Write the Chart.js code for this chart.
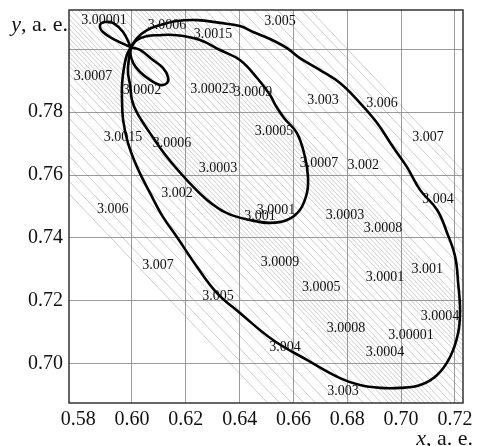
<!DOCTYPE html>
<html>
<head>
<meta charset="utf-8">
<script src="https://cdn.jsdelivr.net/npm/chart.js@4/dist/chart.umd.min.js"></script>
<style>
  html, body { margin: 0; padding: 0; background: #fff; }
  #c { display: block; }
</style>
</head>
<body>
<canvas id="c" width="480" height="446"></canvas>
<script>
// ---- axis ranges and ticks ----
const xRange = [0.5766, 0.7230];
const yRange = [0.6876, 0.8124];
const tickStep = 0.02;
const hiddenYTick = 0.80;

// ---- large ellipse (x, y in a. e.) ----
const largeX = [0.5996,0.6019,0.6056,0.6104,0.6167,0.6242,0.6327,0.6401,0.6450,0.6513,0.6576,0.6624,0.6699,0.6773,0.6847,0.6911,0.6970,0.7022,0.7071,0.7134,0.7171,0.7201,0.7212,0.7219,0.7212,0.7182,0.7134,0.7071,0.6996,0.6922,0.6847,0.6773,0.6650,0.6524,0.6401,0.6316,0.6242,0.6167,0.6115,0.6067,0.6019,0.5985,0.5967,0.5963,0.5963,0.5970,0.5981,0.5996];
const largeY = [0.8006,0.8035,0.8060,0.8076,0.8089,0.8092,0.8083,0.8073,0.8054,0.8032,0.8003,0.7971,0.7933,0.7892,0.7829,0.7765,0.7689,0.7625,0.7552,0.7489,0.7416,0.7340,0.7257,0.7171,0.7098,0.7022,0.6965,0.6933,0.6924,0.6924,0.6933,0.6955,0.7013,0.7076,0.7162,0.7225,0.7308,0.7403,0.7467,0.7543,0.7625,0.7702,0.7775,0.7838,0.7886,0.7940,0.7981,0.8006];

// ---- medium ellipse ----
const mediumX = [0.5996,0.6019,0.6056,0.6093,0.6167,0.6253,0.6327,0.6401,0.6465,0.6513,0.6535,0.6565,0.6613,0.6643,0.6654,0.6650,0.6624,0.6576,0.6513,0.6439,0.6353,0.6279,0.6204,0.6130,0.6067,0.6019,0.6000,0.5993,0.5985,0.5989,0.5996];
const mediumY = [0.8006,0.8029,0.8041,0.8044,0.8044,0.8029,0.7997,0.7965,0.7908,0.7854,0.7819,0.7781,0.7733,0.7657,0.7594,0.7543,0.7489,0.7457,0.7448,0.7457,0.7479,0.7521,0.7584,0.7657,0.7733,0.7797,0.7838,0.7886,0.7927,0.7971,0.8006];

// ---- small upper-left loop ----
const loopAX = [0.5996,0.5937,0.5892,0.5881,0.5900,0.5929,0.5967,0.5996];
const loopAY = [0.8006,0.8029,0.8054,0.8076,0.8086,0.8083,0.8054,0.8006];

// ---- small lower-right loop ----
const loopBX = [0.5996,0.6030,0.6078,0.6115,0.6134,0.6130,0.6104,0.6067,0.6030,0.6004,0.5993,0.5996];
const loopBY = [0.8006,0.7997,0.7965,0.7940,0.7911,0.7892,0.7886,0.7902,0.7927,0.7956,0.7990,0.8006];

// ---- thin contour lines: y = b - slope*(x - 0.58) ----
const hatchSlope = 0.9;
const hatchB = [
  0.751,0.755,0.759,0.763,0.767,0.771,0.775,0.779,0.783,0.786,0.789,
  0.7915,0.793,0.7945,0.796,0.7975,0.799,0.8005,0.802,0.8035,0.805,0.8065,0.808,
  0.810,0.8125,0.815,0.8175,0.820,0.8225,0.825,0.8275,0.830,
  0.8315,0.833,0.8345,0.836,0.8375,0.839,0.8405,0.842,0.8435,0.845,0.8465,0.848,
  0.851,0.855,0.859,0.863,0.867,0.871,0.875,0.879,0.883,0.887,0.890
];

// ---- contour value labels ----
const labelText = ["3.00001","3.0006","3.0015","3.005","3.0007","3.0002","3.00023","3.0009","3.003","3.006","3.007","3.0005","3.0015","3.0006","3.0003","3.0007","3.002","3.002","3.004","3.006","3.001","3.0001","3.0003","3.0008","3.0009","3.007","3.0005","3.0001","3.001","3.005","3.0004","3.0008","3.00001","3.004","3.0004","3.003"];
const labelX = [0.5896,0.6130,0.6301,0.6550,0.5855,0.6037,0.6301,0.6450,0.6710,0.6929,0.7100,0.6528,0.5967,0.6149,0.6320,0.6695,0.6859,0.6167,0.7137,0.5929,0.6476,0.6535,0.6792,0.6933,0.6550,0.6097,0.6703,0.6940,0.7097,0.6320,0.7145,0.6795,0.7037,0.6569,0.6940,0.6784];
const labelY = [0.8092,0.8076,0.8048,0.8089,0.7914,0.7870,0.7873,0.7864,0.7838,0.7829,0.7721,0.7740,0.7721,0.7702,0.7622,0.7638,0.7632,0.7543,0.7524,0.7492,0.7470,0.7489,0.7473,0.7432,0.7324,0.7314,0.7244,0.7276,0.7302,0.7216,0.7152,0.7114,0.7092,0.7054,0.7038,0.6914];

const SERIF = '"Liberation Serif", "DejaVu Serif", serif';

function pts(xs, ys) { return xs.map((x, i) => ({ x: x, y: ys[i] })); }

const datasets = [];
[[largeX, largeY], [mediumX, mediumY], [loopAX, loopAY], [loopBX, loopBY]].forEach(c => {
  datasets.push({
    data: pts(c[0], c[1]),
    showLine: true, borderColor: '#000', borderWidth: 2.6,
    pointRadius: 0, tension: 0.4, order: 0, clip: 0
  });
});
hatchB.forEach(b => {
  datasets.push({
    data: [
      { x: xRange[0], y: b - hatchSlope * (xRange[0] - 0.58) },
      { x: xRange[1], y: b - hatchSlope * (xRange[1] - 0.58) }
    ],
    showLine: true, borderColor: 'rgba(135,135,135,0.7)', borderWidth: 0.6,
    pointRadius: 0, tension: 0, order: 1, clip: 0
  });
});

const overlay = {
  id: 'overlay',
  afterDatasetsDraw(chart) {
    const ctx = chart.ctx, xs = chart.scales.x, ys = chart.scales.y, a = chart.chartArea;
    ctx.save();
    ctx.fillStyle = '#111';
    ctx.font = '14px ' + SERIF;
    ctx.textAlign = 'center';
    ctx.textBaseline = 'middle';
    labelText.forEach((t, i) => {
      ctx.fillText(t, xs.getPixelForValue(labelX[i]), ys.getPixelForValue(labelY[i]));
    });
    // frame
    ctx.strokeStyle = '#333';
    ctx.lineWidth = 1.5;
    ctx.strokeRect(a.left, a.top, a.right - a.left, a.bottom - a.top);
    // axis titles
    ctx.textBaseline = 'alphabetic';
    ctx.textAlign = 'left';
    function title(italic, rest, right, base) {
      ctx.font = 'italic 22px ' + SERIF;
      const w1 = ctx.measureText(italic).width;
      ctx.font = '22px ' + SERIF;
      const w2 = ctx.measureText(rest).width;
      const x0 = right - w1 - w2;
      ctx.font = 'italic 22px ' + SERIF;
      ctx.fillText(italic, x0, base);
      ctx.font = '22px ' + SERIF;
      ctx.fillText(rest, x0 + w1, base);
    }
    ctx.fillStyle = '#111';
    title('y', ', a. e.', a.left - 1, a.top + 21);
    title('x', ', a. e.', a.right + 10, a.bottom + 42);
    ctx.restore();
  }
};

new Chart(document.getElementById('c'), {
  type: 'scatter',
  data: { datasets: datasets },
  options: {
    responsive: false,
    animation: false,
    devicePixelRatio: 1,
    layout: { padding: { top: 10, right: 17, left: 0, bottom: 0 } },
    plugins: { legend: { display: false }, tooltip: { enabled: false } },
    scales: {
      x: {
        type: 'linear', min: xRange[0], max: xRange[1],
        afterFit(s) { s.height = 43; s.paddingLeft = 0; s.paddingRight = 0; },
        border: { display: false },
        grid: {
          drawTicks: false, lineWidth: 1,
          color: c => (c.tick && c.tick.value < 0.585) ? 'rgba(0,0,0,0)' : 'rgba(130,130,130,0.8)'
        },
        ticks: {
          stepSize: tickStep, includeBounds: false, padding: 5,
          color: '#111', font: { family: SERIF, size: 20 }, maxRotation: 0,
          callback: v => v.toFixed(2)
        }
      },
      y: {
        type: 'linear', min: yRange[0], max: yRange[1],
        afterFit(s) { s.width = 69; s.paddingTop = 0; s.paddingBottom = 0; },
        border: { display: false },
        grid: { drawTicks: false, lineWidth: 1, color: 'rgba(130,130,130,0.8)' },
        ticks: {
          stepSize: tickStep, includeBounds: false, padding: 6,
          color: '#111', font: { family: SERIF, size: 20 },
          callback: v => Math.abs(v - hiddenYTick) < 1e-6 ? '' : v.toFixed(2)
        }
      }
    }
  },
  plugins: [overlay]
});
</script>
</body>
</html>
